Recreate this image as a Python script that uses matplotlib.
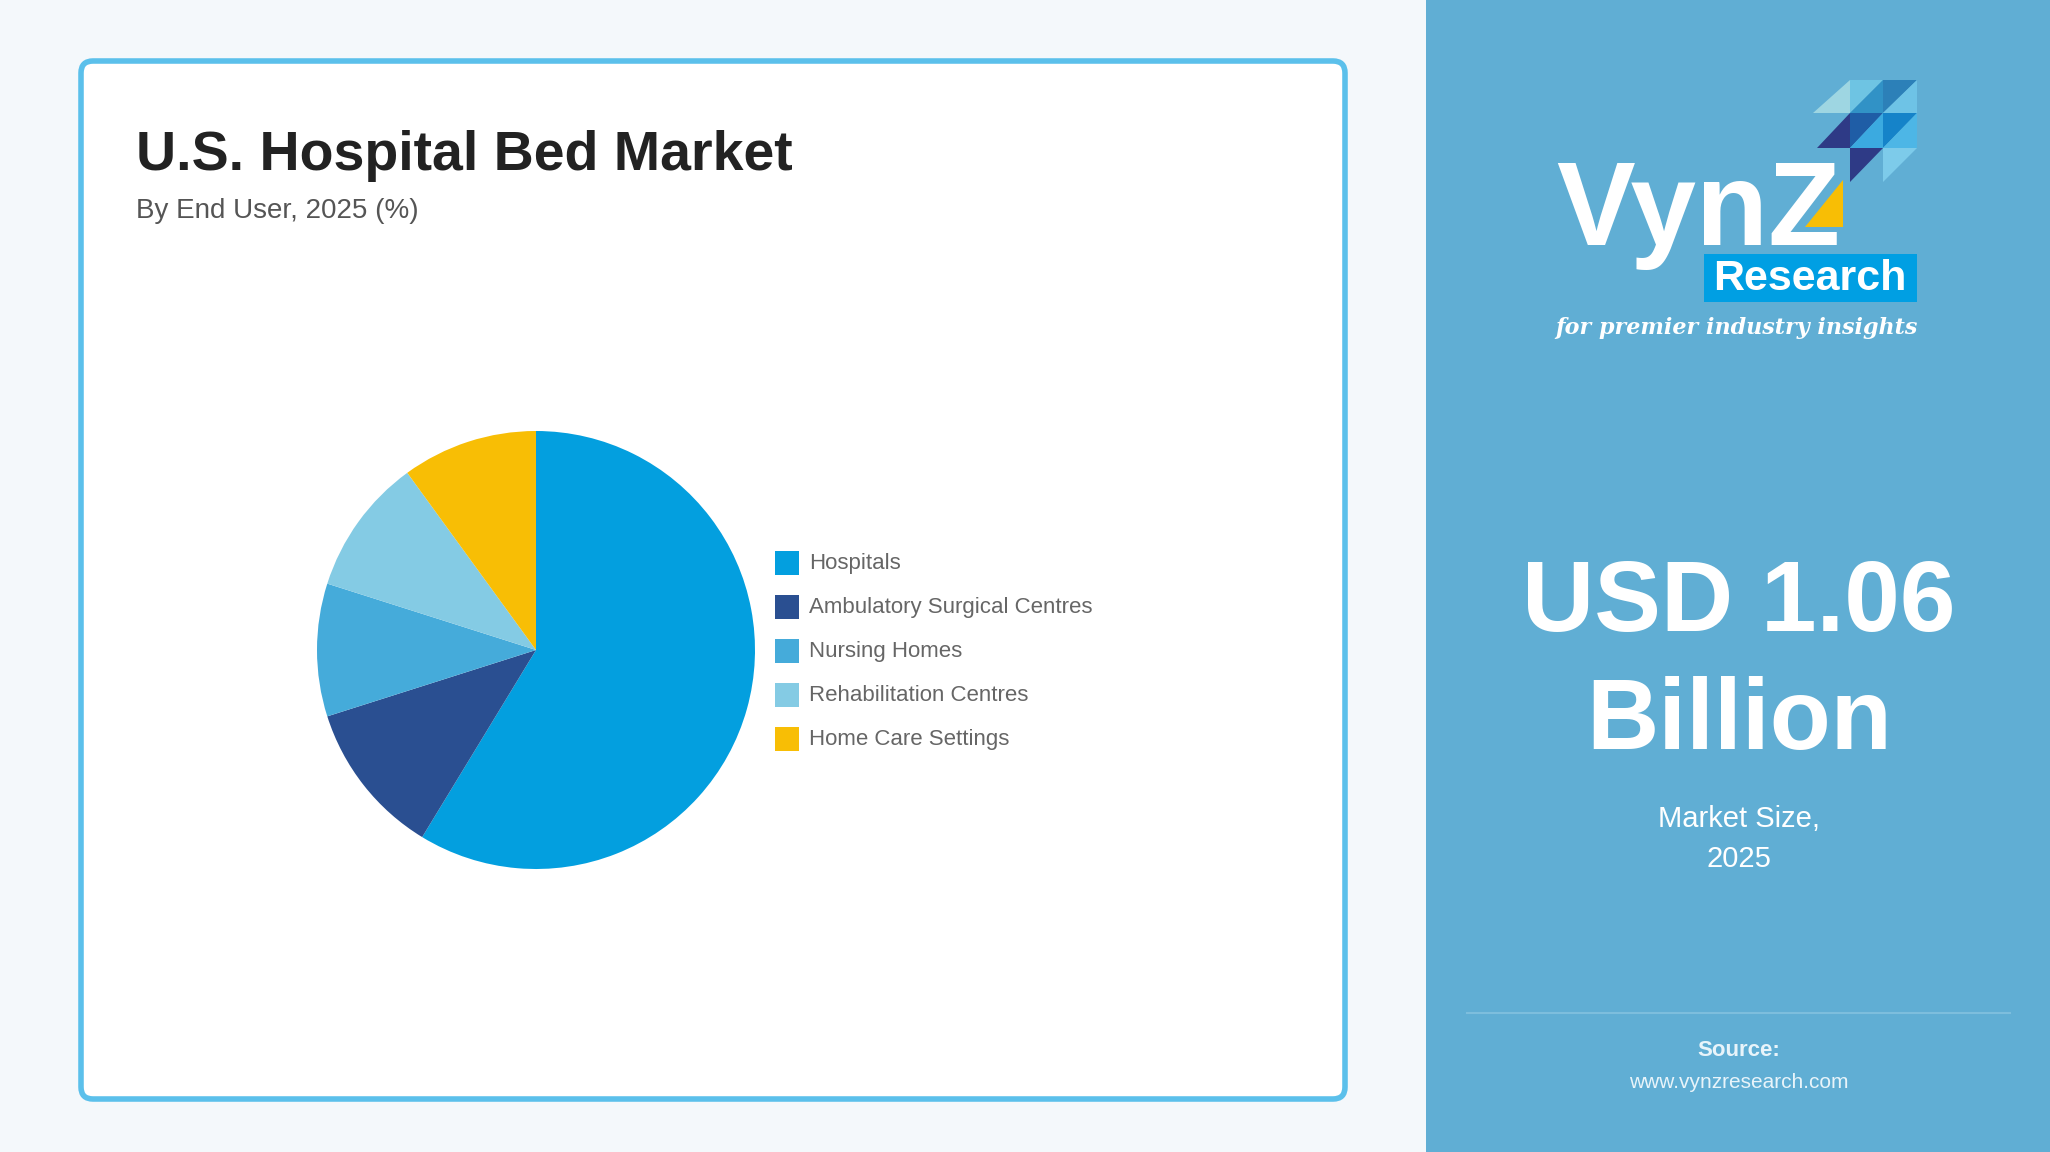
import matplotlib.pyplot as plt
from matplotlib.patches import FancyBboxPatch, Rectangle, Polygon

plt.rcParams['font.family'] = ['Liberation Sans', 'DejaVu Sans']

# data
end_users = ['Hospitals', 'Ambulatory Surgical Centres', 'Nursing Homes',
             'Rehabilitation Centres', 'Home Care Settings']
shares = [58.7, 11.4, 9.8, 10.1, 10.0]
colors = ['#039FDF', '#2A4F91', '#45ABDA', '#84CBE4', '#F8BE05']

title = 'U.S. Hospital Bed Market'
subtitle = 'By End User, 2025 (%)'
market_value = 'USD 1.06\nBillion'
market_label = 'Market Size,\n2025'

W, H = 2050, 1152
fig = plt.figure(figsize=(W / 100, H / 100), dpi=100)
fig.patch.set_facecolor('#F4F8FB')

# background axes in pixel units (y downwards)
bg = fig.add_axes([0, 0, 1, 1])
bg.set_xlim(0, W)
bg.set_ylim(H, 0)
bg.axis('off')

# white card with blue border
card = FancyBboxPatch((81, 61), 1264, 1038, boxstyle='round,pad=0,rounding_size=12',
                      facecolor='white', edgecolor='#5BC0EB', linewidth=4)
bg.add_patch(card)

# right panel
bg.add_patch(Rectangle((1426, 0), W - 1426, H, facecolor='#60AED4', edgecolor='none'))

bg.text(136, 170, title, fontsize=40, fontweight='bold', color='#222222',
        ha='left', va='baseline')
bg.text(136, 218, subtitle, fontsize=20, color='#555555', ha='left', va='baseline')

# legend
for i, (name, col) in enumerate(zip(end_users, colors)):
    yc = 563 + i * 44.1
    bg.add_patch(Rectangle((775, yc - 12), 24, 24, facecolor=col, edgecolor='none'))
    bg.text(809, yc, name, fontsize=16, color='#666666', ha='left', va='center')

# logo
tris = [
    ([(1813, 113), (1850, 80), (1850, 113)], '#9ED6E2'),
    ([(1850, 80), (1883, 80), (1850, 113)], '#6EC4E3'),
    ([(1883, 80), (1883, 113), (1850, 113)], '#3192C6'),
    ([(1883, 80), (1917, 80), (1883, 113)], '#2C80B8'),
    ([(1917, 80), (1917, 113), (1883, 113)], '#6EC3E6'),
    ([(1817, 148), (1850, 113), (1850, 148)], '#2E3A86'),
    ([(1850, 113), (1883, 113), (1850, 148)], '#1F5DA6'),
    ([(1883, 113), (1883, 148), (1850, 148)], '#3BAAE0'),
    ([(1883, 113), (1917, 113), (1883, 148)], '#1583C9'),
    ([(1917, 113), (1917, 148), (1883, 148)], '#4DB6E6'),
    ([(1850, 148), (1883, 148), (1850, 182)], '#2E3A86'),
    ([(1883, 148), (1917, 148), (1883, 182)], '#7DCBEA'),
]
for pts, c in tris:
    bg.add_patch(Polygon(pts, closed=True, facecolor=c, edgecolor='none'))

bg.text(1556, 245, 'VynZ', fontsize=85, fontweight='bold', color='white',
        ha='left', va='baseline')
bg.add_patch(Polygon([(1805, 227), (1843, 180), (1843, 227)], closed=True,
                     facecolor='#F8BE05', edgecolor='none'))
bg.add_patch(Rectangle((1704, 254), 213, 48, facecolor='#009FE3', edgecolor='none'))
bg.text(1810, 279, 'Research', fontsize=31, fontweight='bold', color='white',
        ha='center', va='center')
bg.text(1737, 328, 'for premier industry insights', fontsize=16, fontstyle='italic',
        fontweight='bold', family='DejaVu Serif', color='white', ha='center', va='center')

# market size
bg.text(1739, 664, market_value, fontsize=72, fontweight='bold', color='white',
        ha='center', va='center', linespacing=1.32)
bg.text(1739, 839, market_label, fontsize=21, color='white', ha='center', va='center',
        linespacing=1.55)
bg.plot([1467, 2010], [1013, 1013], color='#7DBEDD', linewidth=1.5)
bg.text(1739, 1051, 'Source:', fontsize=16, fontweight='bold', color='#E8F4FA',
        ha='center', va='center')
bg.text(1739, 1083, 'www.vynzresearch.com', fontsize=15, color='#E8F4FA',
        ha='center', va='center')

# pie
cx, cy, r = 536, 650, 219
ax = fig.add_axes([(cx - r) / W, (H - cy - r) / H, 2 * r / W, 2 * r / H])
ax.pie(shares, colors=colors, startangle=90, counterclock=False,
       wedgeprops={'linewidth': 0})
ax.set_xlim(-1, 1)
ax.set_ylim(-1, 1)
ax.axis('off')

fig.savefig('out.png', dpi=100, facecolor=fig.get_facecolor())
